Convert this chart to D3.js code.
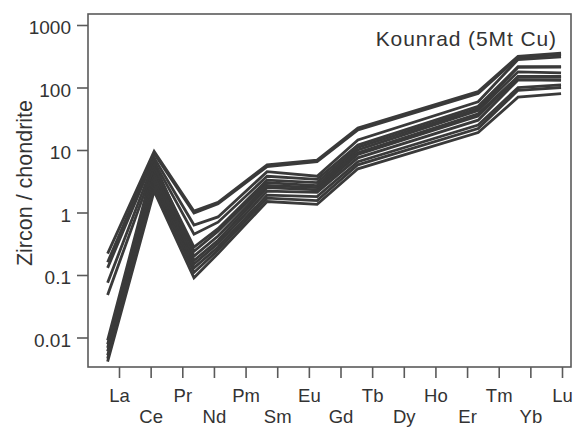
<!DOCTYPE html>
<html>
<head>
<meta charset="utf-8">
<script src="https://cdn.jsdelivr.net/npm/d3@7"></script>
<style>
  html, body { margin: 0; padding: 0; background: #fff; }
  svg { display: block; font-family: "Liberation Sans", Arial, sans-serif; }
</style>
</head>
<body>
<svg id="chart" width="580" height="427"></svg>
<script>
// ---- data ----
const elements = ["La","Ce","Pr","Nd","Pm","Sm","Eu","Gd","Tb","Dy","Ho","Er","Tm","Yb","Lu"];
const yTicks = [0.01, 0.1, 1, 10, 100, 1000];
const yTickLabels = ["0.01", "0.1", "1", "10", "100", "1000"];
const title = "Kounrad (5Mt Cu)";
const yTitle = "Zircon / chondrite";
// elements at which the measured patterns have vertices, and where they sit along the axis (in element-index units, as drawn in the source figure)
const plotted = ["La","Ce","Pr","Nd","Sm","Eu","Gd","Tm","Yb","Lu"];
const plotPos = [-0.36, 1.11, 2.37, 3.13, 4.68, 6.26, 7.55, 11.35, 12.61, 13.97];
const s1  = [0.22,   9.5, 1.05, 1.45, 5.8, 6.9, 22.5, 86, 315, 355];
const s2  = [0.16,   8.8, 0.98, 1.38, 5.4, 6.5, 21,   80, 300, 335];
const s3  = [0.13,   7.5, 0.63, 0.85, 4.5, 3.8, 14.5, 59, 280, 310];
const s4  = [0.075,  6.5, 0.45, 0.70, 3.8, 3.4, 12,   50, 215, 215];
const s5  = [0.048,  5.5, 0.28, 0.55, 3.3, 3.0, 11,   46, 210, 212];
const s6  = [0.0090, 6.0, 0.24, 0.50, 3.0, 2.7, 10,   43, 178, 172];
const s7  = [0.0078, 5.0, 0.20, 0.42, 2.7, 2.5, 9,    38, 150, 150];
const s8  = [0.0068, 4.2, 0.17, 0.36, 2.5, 2.3, 8.5,  35, 146, 146];
const s9  = [0.0060, 3.5, 0.15, 0.32, 2.2, 2.1, 7.5,  30, 132, 130];
const s10 = [0.0052, 3.0, 0.13, 0.28, 1.9, 1.8, 6.5,  25, 100, 110];
const s11 = [0.0046, 2.6, 0.11, 0.25, 1.7, 1.55, 5.8, 22, 90,  100];
const s12 = [0.0041, 2.2, 0.09, 0.22, 1.5, 1.35, 5.0, 19, 70,  80];
const series = [s12, s11, s10, s9, s8, s7, s6, s5, s4, s3, s2, s1];

// ---- layout ----
const svg = d3.select("#chart");
const frame = {left: 88, right: 571, top: 14, bottom: 367};
const ink = "#3a3a3a", axisCol = "#5a5a5a", textCol = "#333";

const x = d3.scalePoint().domain(elements).range([119, 562]);
const xi = d3.scaleLinear().domain([0, elements.length - 1]).range([119, 562]);
const y = d3.scaleLog().domain([0.01, 1000]).range([337.5, 25]);

// lines
const line = d3.line()
  .x((d, i) => xi(plotPos[i]))
  .y(d => y(d))
  .curve(d3.curveLinear);

const g = svg.append("g");
series.forEach(s => {
  g.append("path").attr("d", line(s)).attr("fill", "none")
    .attr("stroke", ink).attr("stroke-width", 2.8).attr("stroke-linejoin", "miter");
});

// frame
svg.append("rect")
  .attr("x", frame.left).attr("y", frame.top)
  .attr("width", frame.right - frame.left).attr("height", frame.bottom - frame.top)
  .attr("fill", "none").attr("stroke", axisCol).attr("stroke-width", 1.6);

// y axis
const yAxis = d3.axisLeft(y).tickValues(yTicks)
  .tickFormat((d, i) => yTickLabels[i]).tickSize(11).tickPadding(6);
const ya = svg.append("g").attr("transform", `translate(${frame.left},0)`).call(yAxis);
ya.select(".domain").remove();
ya.selectAll(".tick line").attr("stroke", axisCol).attr("stroke-width", 1.6);
ya.selectAll(".tick text").attr("fill", textCol).attr("font-size", 19)
  .attr("font-family", "Liberation Sans, Arial, sans-serif").attr("dy", "0.47em");

// x axis
const xAxis = d3.axisBottom(x).tickSize(11).tickPadding(0);
const xa = svg.append("g").attr("transform", `translate(0,${frame.bottom})`).call(xAxis);
xa.select(".domain").remove();
xa.selectAll(".tick line").attr("stroke", axisCol).attr("stroke-width", 1.6);
xa.selectAll(".tick text").attr("fill", textCol).attr("font-size", 18.5)
  .attr("font-family", "Liberation Sans, Arial, sans-serif")
  .attr("dy", null)
  .attr("y", (d, i) => i % 2 === 0 ? 35 : 56);

// title
svg.append("text").attr("x", 557).attr("y", 46).attr("text-anchor", "end")
  .attr("font-size", 21).attr("letter-spacing", 0.9).attr("fill", textCol).text(title);

// y title
svg.append("text").attr("transform", "translate(32,183) rotate(-90)")
  .attr("text-anchor", "middle").attr("font-size", 21.5).attr("fill", textCol).text(yTitle);
</script>
</body>
</html>
